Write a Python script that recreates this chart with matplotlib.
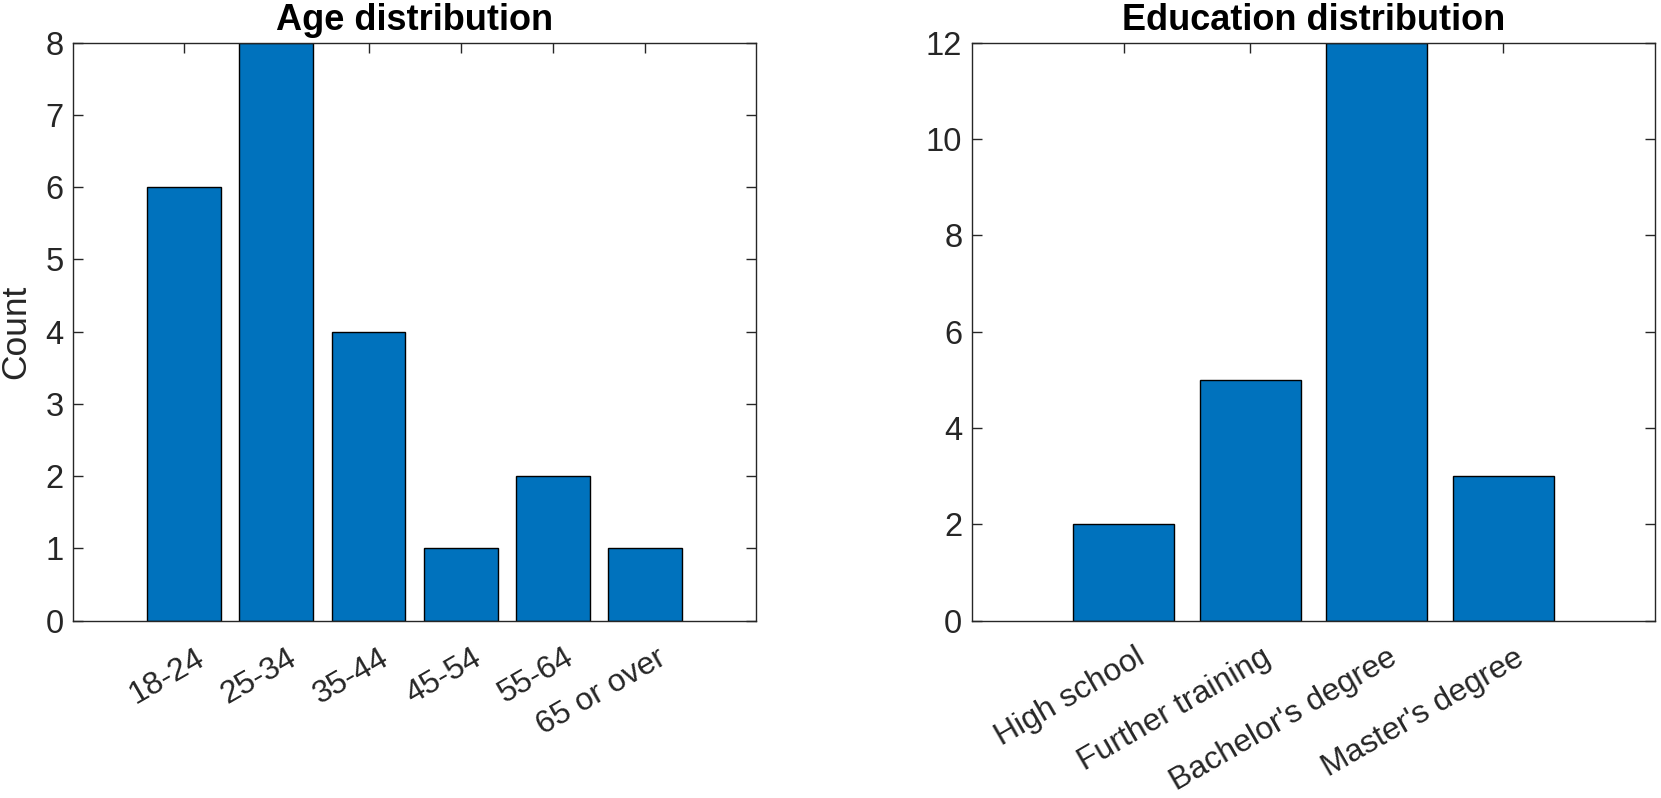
import matplotlib
matplotlib.use("Agg")
import matplotlib.pyplot as plt
import matplotlib.transforms as mtransforms
import numpy as np

plt.rcParams['font.family'] = ['Liberation Sans', 'DejaVu Sans']

age_categories = ["18-24", "25-34", "35-44", "45-54", "55-64", "65 or over"]
age_counts = [6, 8, 4, 1, 2, 1]
edu_categories = ["High school", "Further training", "Bachelor's degree", "Master's degree"]
edu_counts = [2, 5, 12, 3]

bar_color = "#0072BD"
axis_color = "#262626"
TICK_FS = 23.5
XLAB_FS = 23

W, H = 1661, 798
fig = plt.figure(figsize=(W / 100, H / 100), dpi=100)

def make_axes(rect, cats, counts, ymax, ystep, title, ylabel=None):
    ax = fig.add_axes(rect)
    x = np.arange(1, len(cats) + 1)
    ax.bar(x, counts, width=0.8, color=bar_color, edgecolor="black", linewidth=1.0, zorder=2)
    ax.set_xlim(-0.2, len(cats) + 1.2)
    ax.set_ylim(0, ymax)
    ax.set_yticks(np.arange(0, ymax + 0.01, ystep))
    ax.set_xticks(x)
    ax.set_xticklabels([""] * len(cats))
    ax.tick_params(axis="both", direction="in", length=7, width=1.0, colors=axis_color,
                   labelsize=TICK_FS, top=True, right=True)
    ax.tick_params(axis="y", pad=7)
    for s in ax.spines.values():
        s.set_color(axis_color)
        s.set_linewidth(1.0)
        s.set_zorder(3)
    # rotated category labels
    off = mtransforms.ScaledTranslation(11 / 100, -22 / 100, fig.dpi_scale_trans)
    trans = ax.get_xaxis_transform() + off
    for xi, c in zip(x, cats):
        ax.text(xi, 0, c, transform=trans, rotation=30, ha="right", va="top",
                rotation_mode="anchor", fontsize=XLAB_FS, color=axis_color)
    ax.set_title(title, fontsize=26, fontweight="bold", color="black", pad=9.5)
    if ylabel:
        ax.set_ylabel(ylabel, fontsize=25.5, color=axis_color)
        ax.yaxis.set_label_coords((32 - 73.3) / (756 - 73.3), 0.5)
    return ax

make_axes([73.3 / W, 1 - 620.7 / H, (756 - 73.3) / W, (620.7 - 42.7) / H],
          age_categories, age_counts, 8, 1, "Age distribution", "Count")
make_axes([972 / W, 1 - 620.7 / H, (1655 - 972) / W, (620.7 - 42.7) / H],
          edu_categories, edu_counts, 12, 2, "Education distribution")

fig.savefig("out.png", dpi=100, facecolor="white")
